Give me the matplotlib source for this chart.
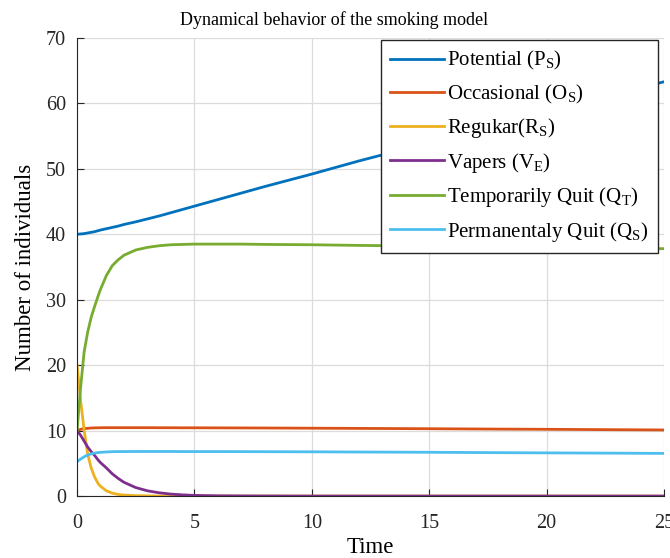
import numpy as np
import matplotlib
matplotlib.use("Agg")
import matplotlib.pyplot as plt

plt.rcParams['font.family'] = ['Liberation Serif', 'DejaVu Serif']
plt.rcParams['mathtext.fontset'] = 'custom'
plt.rcParams['mathtext.rm'] = 'Liberation Serif'
plt.rcParams['mathtext.it'] = 'Liberation Serif'

# time grid (denser near t=0 where things move fast)
t = [0, 0.15, 0.3, 0.45, 0.6, 0.75, 0.9, 1.0, 1.25, 1.5, 1.75, 2, 2.5, 3, 3.5,
     4, 4.5, 5, 6, 7, 8, 10, 12, 15, 18, 20, 22, 25]

potential = [40.0, 40.05, 40.1, 40.2, 40.3, 40.4, 40.55, 40.65, 40.85, 41.05, 41.25,
             41.5, 41.9, 42.35, 42.8, 43.3, 43.8, 44.3, 45.3, 46.3, 47.3, 49.2,
             51.2, 54.0, 56.9, 58.8, 60.6, 63.3]
occasional = [10.0, 10.2, 10.3, 10.35, 10.4, 10.42, 10.43, 10.44, 10.45, 10.45, 10.45,
              10.45, 10.45, 10.45, 10.44, 10.44, 10.43, 10.43, 10.42, 10.41, 10.40,
              10.37, 10.34, 10.29, 10.23, 10.2, 10.16, 10.1]
regular = [20.0, 14.7, 10.1, 6.5, 4.3, 2.9, 1.9, 1.5, 0.8, 0.45, 0.25, 0.15, 0.06,
           0.03, 0.01, 0, 0, 0, 0, 0, 0, 0, 0, 0, 0, 0, 0, 0]
vapers = [10.0, 9.3, 8.4, 7.5, 6.8, 6.2, 5.5, 5.1, 4.3, 3.4, 2.7, 2.1, 1.3, 0.8, 0.5,
          0.3, 0.18, 0.1, 0.04, 0.02, 0.01, 0, 0, 0, 0, 0, 0, 0]
temp_quit = [10.0, 16.5, 22.0, 25.0, 27.3, 29.0, 30.6, 31.6, 33.7, 35.2, 36.1, 36.8,
             37.6, 38.0, 38.25, 38.4, 38.45, 38.5, 38.5, 38.5, 38.45, 38.4, 38.3,
             38.2, 38.05, 38.0, 37.9, 37.8]
perm_quit = [5.25, 5.65, 6.0, 6.27, 6.45, 6.57, 6.65, 6.68, 6.74, 6.78, 6.8, 6.8,
             6.81, 6.81, 6.81, 6.81, 6.8, 6.8, 6.8, 6.79, 6.78, 6.76, 6.73, 6.69,
             6.63, 6.6, 6.57, 6.52]

series = [
    (potential, 'Potential (P$_\\mathregular{S}$)', '#0072BD'),
    (occasional, 'Occasional (O$_\\mathregular{S}$)', '#D95319'),
    (regular, 'Regukar(R$_\\mathregular{S}$)', '#EDB120'),
    (vapers, 'Vapers (V$_\\mathregular{E}$)', '#7E2F8E'),
    (temp_quit, 'Temporarily Quit (Q$_\\mathregular{T}$)', '#77AC30'),
    (perm_quit, 'Permanentaly Quit (Q$_\\mathregular{S}$)', '#4DBEEE'),
]

fig = plt.figure(figsize=(6.7, 5.58), dpi=100)
ax = fig.add_axes([0.115, 0.111, 0.876, 0.821])

for y, lab, col in series:
    ax.plot(t, y, color=col, lw=2.0, label=lab)

ax.set_xlim(0, 25)
ax.set_ylim(0, 70)
ax.set_xticks([0, 5, 10, 15, 20, 25])
ax.set_yticks(range(0, 71, 10))
ax.grid(True, color='#dcdcdc', lw=0.9)
ax.set_axisbelow(True)
for s in ['top', 'right']:
    ax.spines[s].set_visible(False)
for s in ['left', 'bottom']:
    ax.spines[s].set_color('#262626')
ax.tick_params(direction='in', length=5, labelsize=14.5, colors='#262626')
ax.tick_params(axis='x', pad=13)
ax.tick_params(axis='y', pad=8)

ax.set_title('Dynamical behavior of the smoking model', fontsize=13, pad=9,
             x=0.438)
ax.set_xlabel('Time', fontsize=16.5, labelpad=3)
ax.set_ylabel('Number of individuals', fontsize=16.5, labelpad=7)

leg = ax.legend(loc='upper right', bbox_to_anchor=(658 / 670, 1 - 40 / 558),
                bbox_transform=fig.transFigure, borderaxespad=0, fontsize=15,
                fancybox=False, framealpha=1, edgecolor='#262626',
                handlelength=2.6, handletextpad=0.15, labelspacing=0.5,
                borderpad=0.45)
leg.get_frame().set_linewidth(1.0)

fig.savefig('out.png', dpi=100)
